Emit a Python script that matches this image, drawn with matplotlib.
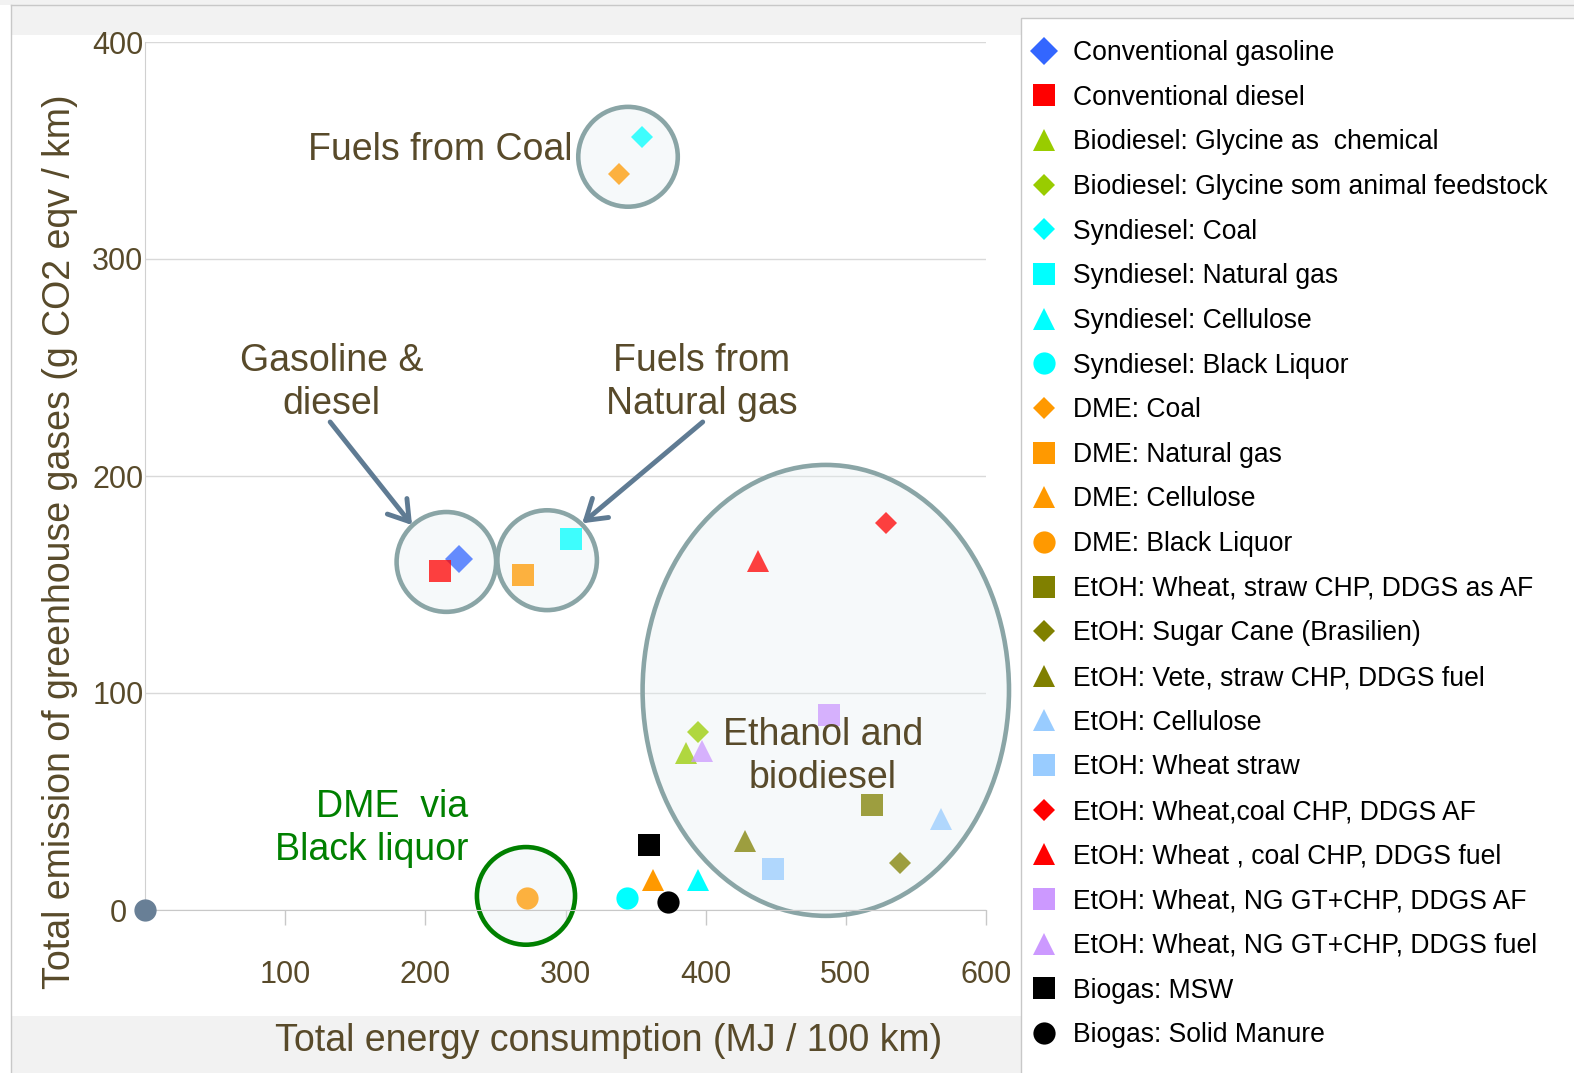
import matplotlib
matplotlib.use('Agg')
from matplotlib import pyplot as plt
from matplotlib.patches import Ellipse, Rectangle
from matplotlib.lines import Line2D

plt.rcParams['font.family'] = ['Liberation Sans', 'DejaVu Sans']

# data
series = ['Conventional gasoline', 'Conventional diesel',
          'Biodiesel: Glycine as  chemical', 'Biodiesel: Glycine som animal feedstock',
          'Syndiesel: Coal', 'Syndiesel: Natural gas', 'Syndiesel: Cellulose', 'Syndiesel: Black Liquor',
          'DME: Coal', 'DME: Natural gas', 'DME: Cellulose', 'DME: Black Liquor',
          'EtOH: Wheat, straw CHP, DDGS as AF', 'EtOH: Sugar Cane (Brasilien)',
          'EtOH: Vete, straw CHP, DDGS fuel', 'EtOH: Cellulose', 'EtOH: Wheat straw',
          'EtOH: Wheat,coal CHP, DDGS AF', 'EtOH: Wheat , coal CHP, DDGS fuel',
          'EtOH: Wheat, NG GT+CHP, DDGS AF', 'EtOH: Wheat, NG GT+CHP, DDGS fuel',
          'Biogas: MSW', 'Biogas: Solid Manure']
energy = [223.8, 210.2, 385.7, 394.5, 354.3, 303.6, 394.8, 344.0, 338.1, 269.8, 362.4, 272.6,
          518.8, 538.8, 428.1, 568.1, 448.1, 528.6, 437.6, 488.1, 397.6, 359.5, 373.1]
emission = [161.9, 156.2, 72.5, 82.2, 356.1, 171.1, 13.8, 5.4, 339.2, 154.2, 13.8, 5.4,
            48.2, 21.5, 31.9, 41.8, 18.9, 178.5, 161.0, 89.7, 73.4, 29.8, 3.8]
x_ticks = [100, 200, 300, 400, 500, 600]
y_ticks = [0, 100, 200, 300, 400]

# style per series
colors = ['#3366ff', '#ff0000', '#99cc00', '#99cc00', '#00ffff', '#00ffff', '#00ffff', '#00ffff',
          '#ff9900', '#ff9900', '#ff9900', '#ff9900', '#808000', '#808000', '#808000',
          '#99ccff', '#99ccff', '#ff0000', '#ff0000', '#cc99ff', '#cc99ff', 'black', 'black']
markers = ['D', 's', '^', 'D', 'D', 's', '^', 'o', 'D', 's', '^', 'o', 's', 'D', '^',
           '^', 's', 'D', '^', 's', '^', 's', 'o']
solid = {'Syndiesel: Cellulose', 'Syndiesel: Black Liquor', 'DME: Cellulose',
         'Biogas: MSW', 'Biogas: Solid Manure'}


def msize(name, m):
    if m == 'D':
        return 14 if name == 'Conventional gasoline' else 11
    return 16


W, H = 1574, 1073
brown = '#584a2a'
ring = '#8aa5a6'
note_size = 27

fig = plt.figure(figsize=(W / 100, H / 100), dpi=100)


def fx(px):
    return px / W


def fy(py):
    return 1 - py / H


# background bands / frame
for x0, y0, x1, y1 in [(0, 0, W, 5), (11, 5, 1021, 35), (1021, 5, W, 18), (11, 1016, 1021, H)]:
    fig.add_artist(Rectangle((fx(x0), fy(y1)), (x1 - x0) / W, (y1 - y0) / H,
                             transform=fig.transFigure, color='#f2f2f2', lw=0, zorder=0))
fig.add_artist(Line2D([fx(11), 1], [fy(5), fy(5)], transform=fig.transFigure, color='#c8c8c8', lw=1))
fig.add_artist(Line2D([fx(11), fx(11)], [fy(5), 0], transform=fig.transFigure, color='#c8c8c8', lw=1))
fig.add_artist(Rectangle((fx(1021), -0.01), 0.4, fy(18) + 0.01, transform=fig.transFigure,
                         facecolor='white', edgecolor='#c8c8c8', lw=1, zorder=1))

ax = fig.add_axes([fx(145), fy(910), (986 - 145) / W, (910 - 42) / H])
ax.patch.set_alpha(0)
ax.set_xlim(0, 600)
ax.set_ylim(0, 400)
ax.set_axisbelow(True)
ax.grid(axis='y', color='#d9d9d9', lw=1)
for s in ['right', 'top']:
    ax.spines[s].set_visible(False)
ax.spines['left'].set_color('#d0d0d0')
ax.spines['bottom'].set_color('#c8c8c8')
ax.set_xticks(x_ticks)
ax.set_yticks(y_ticks)
ax.tick_params(axis='x', length=11, width=1, color='#c8c8c8', pad=25, labelsize=22, labelcolor=brown)
ax.tick_params(axis='y', length=0, pad=19.5, labelsize=22, labelcolor=brown)
ax.xaxis.get_major_ticks()[0].tick1line.set_color('black')
for lab in ax.get_yticklabels():
    lab.set_ha('center')

ax.set_xlabel('Total energy consumption (MJ / 100 km)', fontsize=27, color=brown)
ax.xaxis.set_label_coords((609 - 145) / 841, (910 - 1041) / 868)
ax.xaxis.label.set_va('center')
ax.set_ylabel('Total emission of greenhouse gases (g CO2 eqv / km)', fontsize=27, color=brown)
ax.yaxis.set_label_coords((60 - 145) / 841, (910 - 542) / 868)
ax.yaxis.label.set_va('center')

# group rings
face = (0.90, 0.94, 0.95, 0.35)
for cx, cy, w, h, ec in [(344.6, 347.1, 71, 46, ring), (215.0, 160.4, 71, 46, ring),
                         (286.9, 161.2, 71, 46, ring), (485.7, 101.2, 261.4, 207.8, ring),
                         (271.8, 6.5, 70, 45, 'green')]:
    ax.add_patch(Ellipse((cx, cy), w, h, facecolor=face, edgecolor=ec, lw=3.3, zorder=2, clip_on=False))

# origin dot
ax.plot([0], [0], marker='o', color='#687f96', markersize=15, ls='none', clip_on=False, zorder=3)

handles = []
for name, xv, yv, c, m in zip(series, energy, emission, colors, markers):
    ms = msize(name, m)
    a = 1.0 if name in solid else 0.75
    ax.plot([xv], [yv], marker=m, color=c, markersize=ms, ls='none', alpha=a,
            markeredgewidth=0, clip_on=False, zorder=3)
    handles.append(Line2D([], [], marker=m, color=c, markersize=ms, ls='none', markeredgewidth=0))

# annotations
txt = dict(fontsize=note_size, ha='center', va='center', zorder=4, linespacing=1.26)
ax.text(210.7, 350.2, 'Fuels from Coal', color=brown, **txt)
ax.text(132.9, 243.2, 'Gasoline &\ndiesel', color=brown, **txt)
ax.text(397.1, 243.2, 'Fuels from\nNatural gas', color=brown, **txt)
ax.text(483.6, 70.8, 'Ethanol and\nbiodiesel', color=brown, **txt)
txt.update(ha='right', multialignment='right')
ax.text(230.7, 37.7, 'DME  via\nBlack liquor', color='green', **txt)

arrow = dict(arrowstyle='->,head_length=0.7,head_width=0.45', color='#5f7b93', lw=3.5,
             shrinkA=0, shrinkB=0, mutation_scale=20)
ax.annotate('', xy=(190.5, 177.4), xytext=(132.1, 224.9), arrowprops=arrow)
ax.annotate('', xy=(311.9, 178.2), xytext=(397.9, 224.9), arrowprops=arrow)

fig.legend(handles, series, loc='upper left', bbox_to_anchor=(fx(1031), fy(40)), frameon=False,
           fontsize=19.1, borderpad=0, borderaxespad=0, handlelength=1.0, handletextpad=0.58,
           labelspacing=0.703)

fig.savefig('out.png', dpi=100)
